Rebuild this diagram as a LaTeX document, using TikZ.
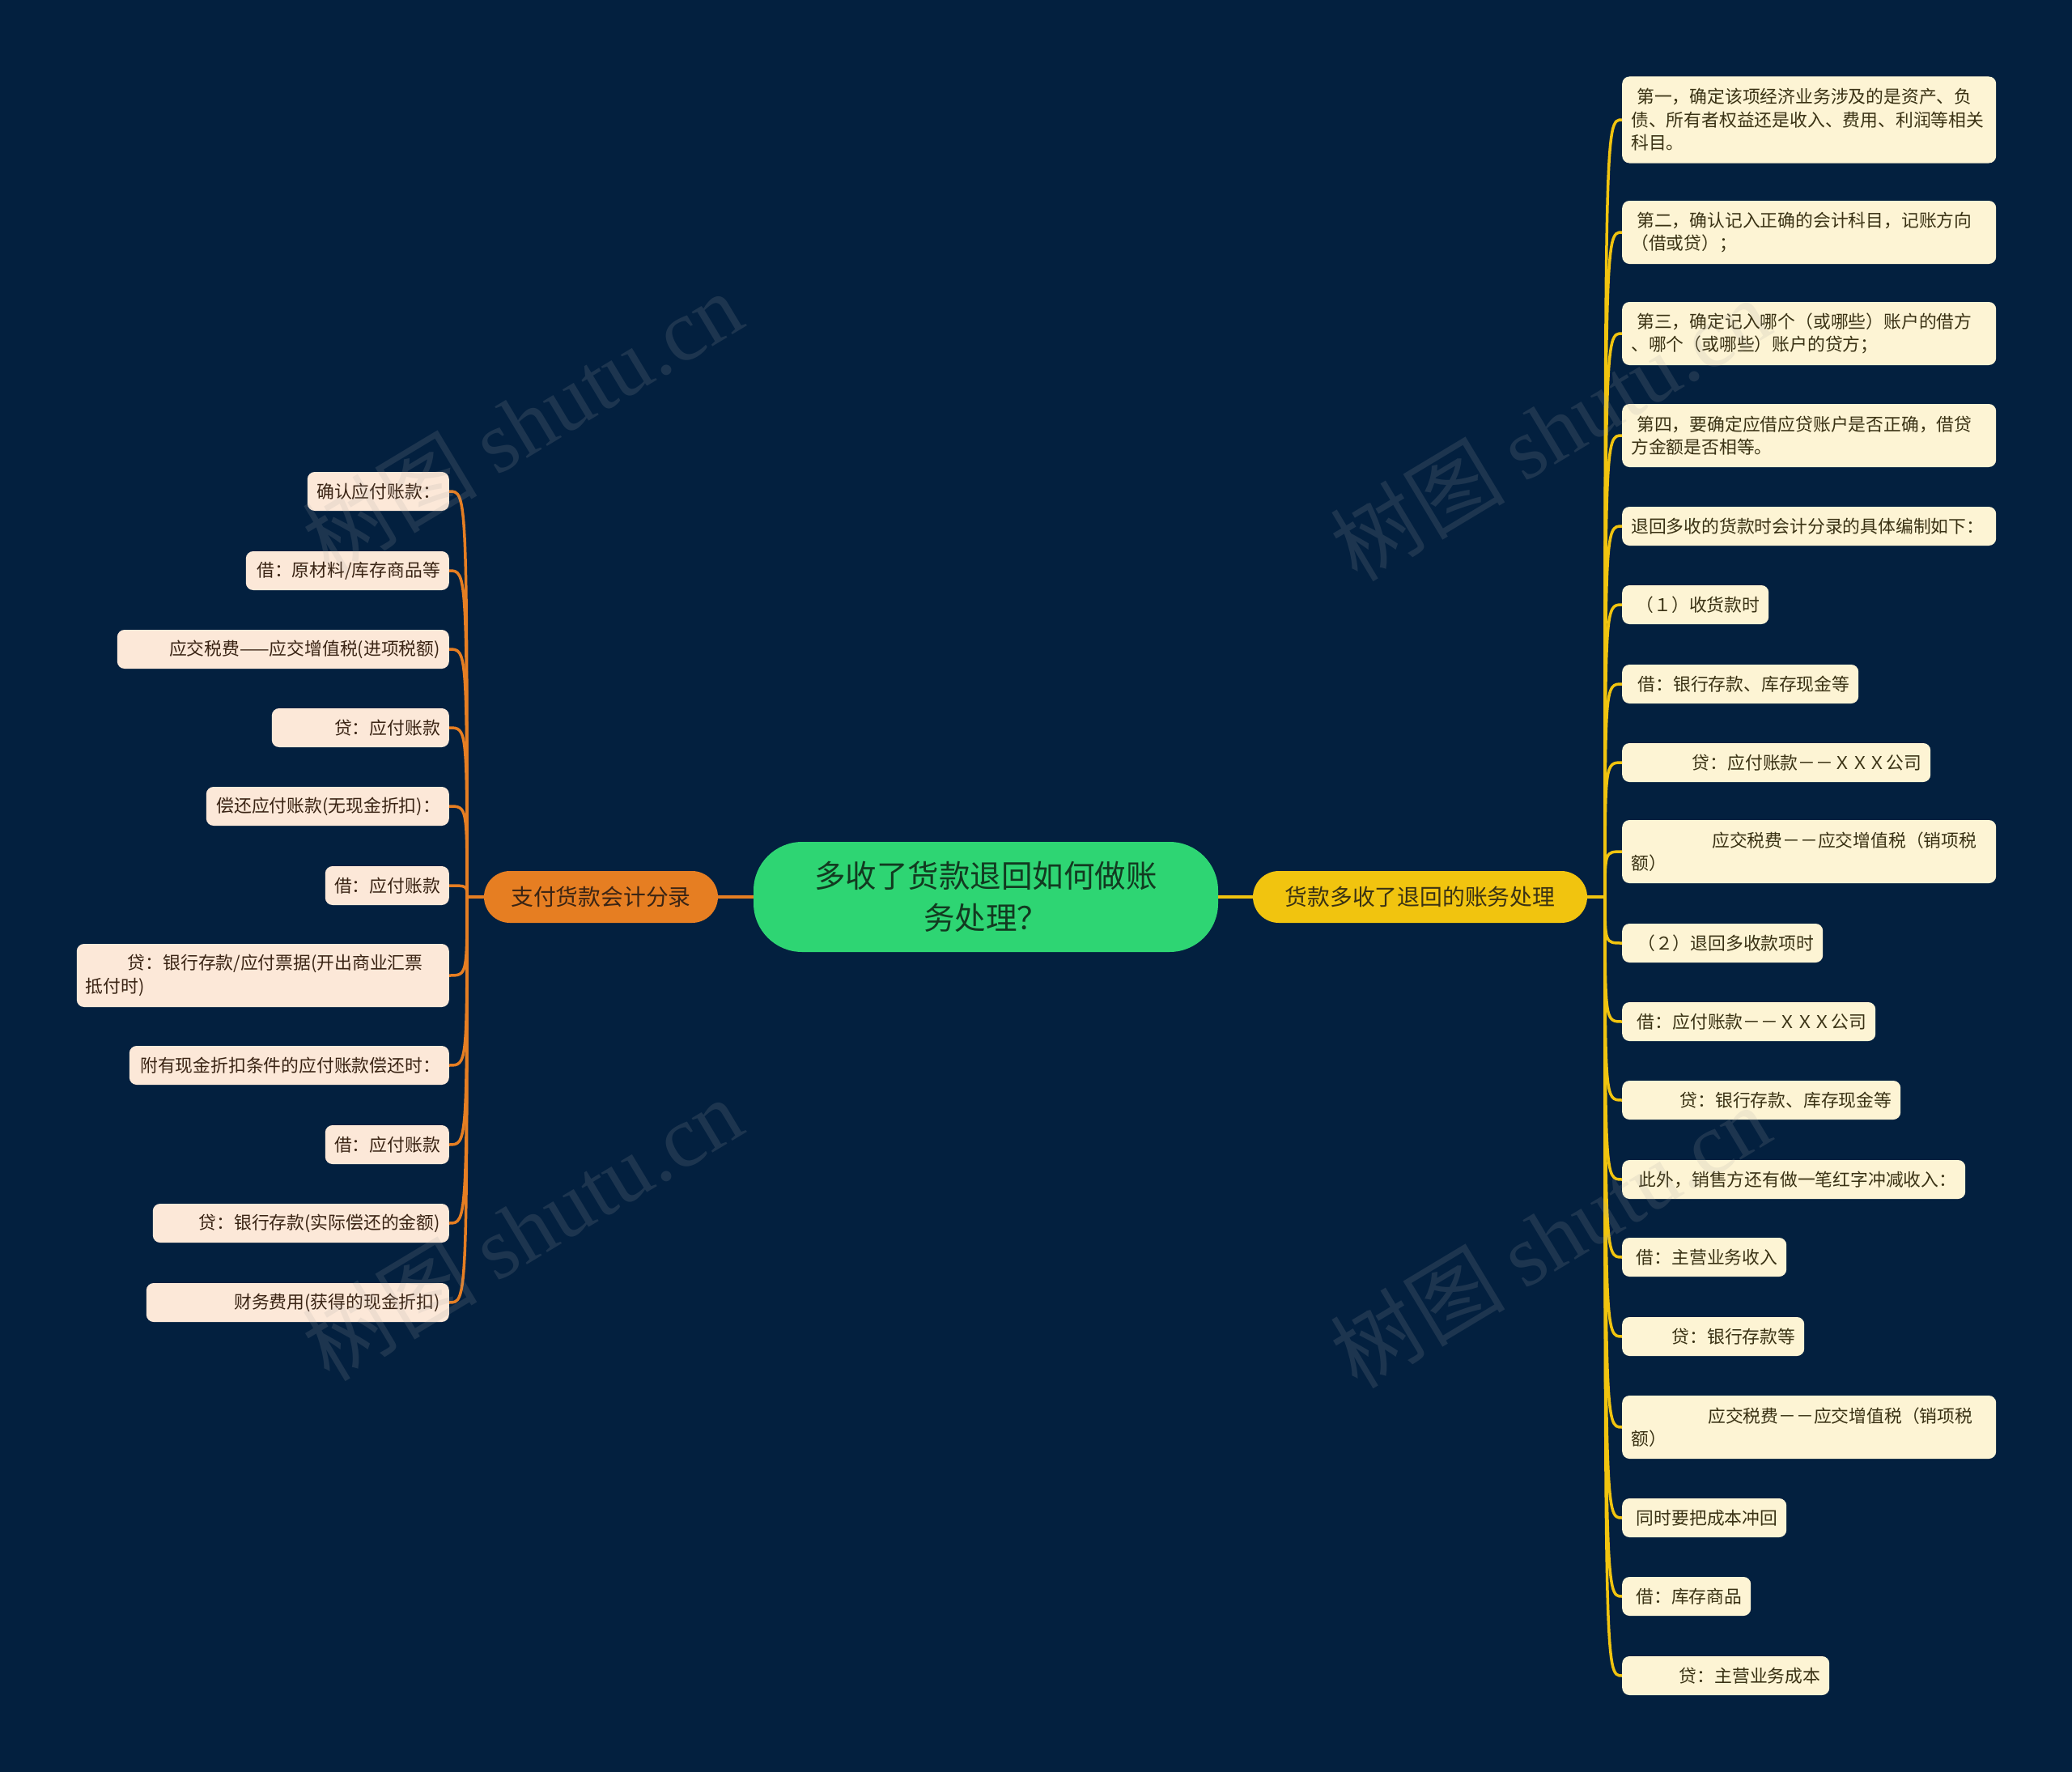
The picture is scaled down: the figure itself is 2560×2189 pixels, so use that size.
\documentclass[tikz,border=0pt]{standalone}
\usepackage{fontspec}
\setmainfont{Noto Sans CJK SC}
\newfontfamily\wmlatin{Liberation Serif}
\usetikzlibrary{calc}
\definecolor{bg}{HTML}{03203F}
\definecolor{cgreen}{HTML}{2ED573}
\definecolor{lorange}{HTML}{E67E22}
\definecolor{ryellow}{HTML}{F1C40F}
\definecolor{lfill}{HTML}{FCE8D8}
\definecolor{rfill}{HTML}{FDF4D4}
\definecolor{ltext}{HTML}{3A2414}
\definecolor{rtext}{HTML}{3A3214}
\definecolor{ctext}{HTML}{123A20}
\newcommand\leaffnt{\fontsize{21.8pt}{28.5pt}\selectfont}
\newcommand\brfnt{\fontsize{27.8pt}{33pt}\selectfont}
\newcommand\cfnt{\fontsize{38.5pt}{52pt}\selectfont}
\tikzset{
  lleaf/.style={fill=lfill, text=ltext, rounded corners=9pt, font=\leaffnt,
    inner xsep=11pt, inner ysep=0pt, minimum height=48pt, anchor=east, align=right},
  rleaf/.style={fill=rfill, text=rtext, rounded corners=9pt, font=\leaffnt,
    inner xsep=11pt, inner ysep=0pt, minimum height=48pt, anchor=west, align=right},
  lconn/.style={draw=lorange, line width=3.5pt},
  rconn/.style={draw=ryellow, line width=3.5pt},
  wm/.style={text=gray!70, text opacity=0.16, rotate=31, font=\fontsize{108pt}{110pt}\selectfont, inner sep=0pt}
}
\begin{document}
\begin{tikzpicture}[x=1pt,y=-1pt]
\fill[bg] (0,0) rectangle (2560,2189);
\useasboundingbox (0,0) rectangle (2560,2189);

% center and branches
\node[fill=cgreen, text=ctext, rounded corners=60pt, minimum width=574pt, minimum height=136pt,
  inner sep=0pt, font=\cfnt, align=center] (c) at (1218,1108) {多收了货款退回如何做账\\务处理？};
\node[fill=lorange, text=ltext, rounded corners=32pt, minimum width=289pt, minimum height=64pt,
  inner sep=0pt, font=\brfnt] (lb) at (742.5,1108) {支付货款会计分录};
\node[fill=ryellow, text=rtext, rounded corners=32pt, minimum width=413pt, minimum height=64pt,
  inner sep=0pt, font=\brfnt] (rb) at (1754.5,1108) {货款多收了退回的账务处理};

% left leaves
\node[lleaf, text width=153pt] (L1) at (555,607) {确认应付账款：};
\node[lleaf, text width=229pt] (L2) at (555,705) {借：原材料/库存商品等};
\node[lleaf, text width=388pt] (L3) at (555,802) {应交税费——应交增值税(进项税额)};
\node[lleaf, text width=197pt] (L4) at (555,899) {贷：应付账款};
\node[lleaf, text width=278pt] (L5) at (555,996) {偿还应付账款(无现金折扣)：};
\node[lleaf, text width=131pt] (L6) at (555,1094) {借：应付账款};
\node[lleaf, text width=438pt, align=left, minimum height=78pt] (L7) at (555,1205)
  {\hspace*{52pt}贷：银行存款/应付票据(开出商业汇票\\抵付时)};
\node[lleaf, text width=373pt] (L8) at (555,1316) {附有现金折扣条件的应付账款偿还时：};
\node[lleaf, text width=131pt] (L9) at (555,1414) {借：应付账款};
\node[lleaf, text width=344pt] (L10) at (555,1511) {贷：银行存款(实际偿还的金额)};
\node[lleaf, text width=352pt] (L11) at (555,1609) {财务费用(获得的现金折扣)};

% right leaves
\node[rleaf, text width=440pt, align=left, minimum height=107pt] (R1) at (2004,148)
  {\hspace*{7pt}第一，确定该项经济业务涉及的是资产、负\\债、所有者权益还是收入、费用、利润等相关\\科目。};
\node[rleaf, text width=440pt, align=left, minimum height=78pt] (R2) at (2004,287)
  {\hspace*{7pt}第二，确认记入正确的会计科目，记账方向\\（借或贷）；};
\node[rleaf, text width=440pt, align=left, minimum height=78pt] (R3) at (2004,412)
  {\hspace*{7pt}第三，确定记入哪个（或哪些）账户的借方\\、哪个（或哪些）账户的贷方；};
\node[rleaf, text width=440pt, align=left, minimum height=78pt] (R4) at (2004,538)
  {\hspace*{7pt}第四，要确定应借应贷账户是否正确，借贷\\方金额是否相等。};
\node[rleaf, text width=440pt, align=left] (R5) at (2004,650) {退回多收的货款时会计分录的具体编制如下：};
\node[rleaf, text width=159pt] (R6) at (2004,747) {（１）收货款时};
\node[rleaf, text width=270pt] (R7) at (2004,845) {借：银行存款、库存现金等};
\node[rleaf, text width=359pt] (R8) at (2004,942) {贷：应付账款－－ＸＸＸ公司};
\node[rleaf, text width=440pt, align=left, minimum height=78pt] (R9) at (2004,1052)
  {\hspace*{100pt}应交税费－－应交增值税（销项税\\额）};
\node[rleaf, text width=226pt] (R10) at (2004,1165) {（２）退回多收款项时};
\node[rleaf, text width=291pt] (R11) at (2004,1262) {借：应付账款－－ＸＸＸ公司};
\node[rleaf, text width=322pt] (R12) at (2004,1359) {贷：银行存款、库存现金等};
\node[rleaf, text width=402pt] (R13) at (2004,1457) {此外，销售方还有做一笔红字冲减收入：};
\node[rleaf, text width=181pt] (R14) at (2004,1553) {借：主营业务收入};
\node[rleaf, text width=203pt] (R15) at (2004,1651) {贷：银行存款等};
\node[rleaf, text width=440pt, align=left, minimum height=78pt] (R16) at (2004,1763)
  {\hspace*{95pt}应交税费－－应交增值税（销项税\\额）};
\node[rleaf, text width=181pt] (R17) at (2004,1875) {同时要把成本冲回};
\node[rleaf, text width=137pt] (R18) at (2004,1972) {借：库存商品};
\node[rleaf, text width=234pt] (R19) at (2004,2070) {贷：主营业务成本};

% connectors
\draw[lorange, line width=4pt] (c.west) -- (lb.east);
\draw[ryellow, line width=4pt] (c.east) -- (rb.west);
\coordinate (tl) at (577,1108);
\coordinate (tr) at (1983,1108);
\foreach \n in {L1,L2,L3,L4,L5,L6,L7,L8,L9,L10,L11}
  \draw[lconn] (lb.west) -- (tl) .. controls (tl |- \n.east) and (tl |- \n.east) .. (\n.east);
\foreach \n in {R1,R2,R3,R4,R5,R6,R7,R8,R9,R10,R11,R12,R13,R14,R15,R16,R17,R18,R19}
  \draw[rconn] (rb.east) -- (tr) .. controls (tr |- \n.west) and (tr |- \n.west) .. (\n.west);

% watermarks
\node[wm] (w1) at (645,522) {树图 {\wmlatin shutu.cn}};
\node[wm] (w2) at (1915,530) {树图 {\wmlatin shutu.cn}};
\node[wm] (w3) at (645,1518) {树图 {\wmlatin shutu.cn}};
\node[wm] (w4) at (1915,1527) {树图 {\wmlatin shutu.cn}};
\end{tikzpicture}
\end{document}
